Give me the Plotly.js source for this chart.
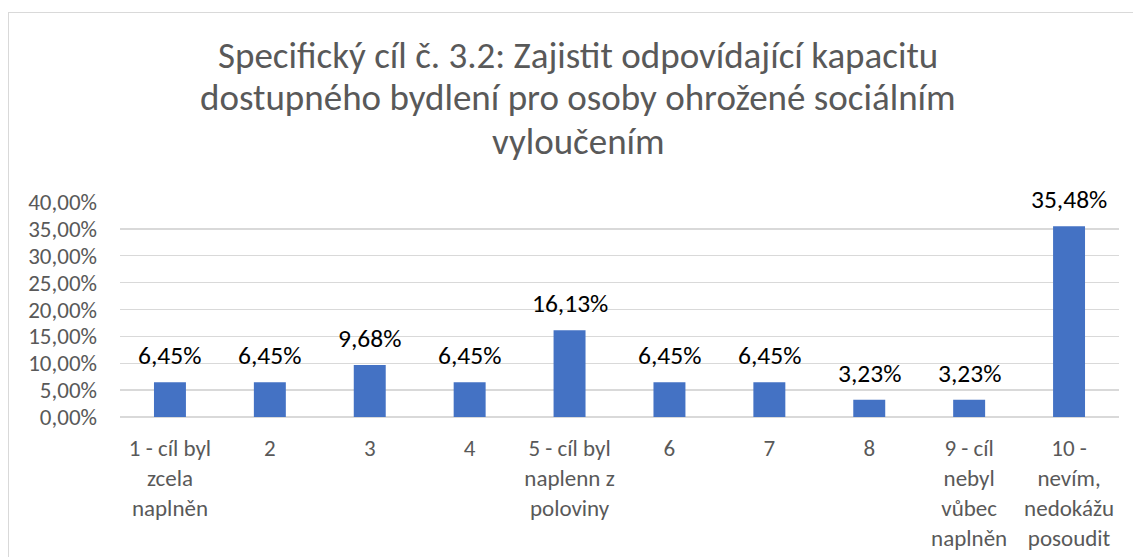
<!DOCTYPE html>
<html>
<head>
<meta charset="utf-8">
<script src="https://cdn.plot.ly/plotly-3.0.1.min.js"></script>
<style>
  html, body { margin: 0; padding: 0; background: #fff; overflow: hidden; }
  #chart { position: absolute; left: 0; top: 0; width: 1133px; height: 557px; }
  #frame { position: absolute; left: 8px; top: 12px; width: 1200px; height: 600px;
           border: 1.5px solid #d9d9d9; pointer-events: none; box-sizing: border-box; }
</style>
</head>
<body>
<div id="chart"></div>
<div id="frame"></div>
<script>
const categories = [
  "1 - cíl byl<br>zcela<br>naplněn",
  "2",
  "3",
  "4",
  "5 - cíl byl<br>naplenn z<br>poloviny",
  "6",
  "7",
  "8",
  "9 - cíl<br>nebyl<br>vůbec<br>naplněn",
  "10 -<br>nevím,<br>nedokážu<br>posoudit"
];
const values = [0.0645, 0.0645, 0.0968, 0.0645, 0.1613, 0.0645, 0.0645, 0.0323, 0.0323, 0.3548];
const yTickValues = [0, 0.05, 0.10, 0.15, 0.20, 0.25, 0.30, 0.35, 0.40];
const titleLines = [
  "Specifický cíl č. 3.2: Zajistit odpovídající kapacitu",
  "dostupného bydlení pro osoby ohrožené sociálním",
  "vyloučením"
];

const FONT = "Carlito, Calibri, Lato, 'Open Sans', sans-serif";
const fmt = v => (v * 100).toFixed(2).replace('.', ',') + '%';

// plot area geometry (pixels) used to place the title lines in paper coords
const PLOT_L = 120, PLOT_R = 1119, PLOT_T = 202, PLOT_B = 417;
const toPaperX = px => (px - PLOT_L) / (PLOT_R - PLOT_L);
const toPaperY = py => (PLOT_B - py) / (PLOT_B - PLOT_T);

const trace = {
  type: 'bar',
  x: categories.map((c, i) => i),
  y: values,
  marker: { color: '#4472C4' },
  hoverinfo: 'none'
};

const labelAnnotations = values.map((v, i) => ({
  x: i, y: v, xref: 'x', yref: 'y',
  text: fmt(v),
  showarrow: false, yanchor: 'bottom', yshift: 9,
  font: { family: FONT, size: 25.5, color: '#000000' }
}));

const titleCenters = [55, 98, 141];
const titleAnnotations = titleLines.map((t, i) => ({
  x: toPaperX(578), y: toPaperY(titleCenters[i]), xref: 'paper', yref: 'paper',
  xanchor: 'center', yanchor: 'middle',
  text: t, showarrow: false,
  font: { family: FONT, size: 37, color: '#595959' }
}));

const layout = {
  width: 1133, height: 557,
  paper_bgcolor: '#ffffff', plot_bgcolor: '#ffffff',
  separators: ', ',
  margin: { l: PLOT_L, r: 1133 - PLOT_R, t: PLOT_T, b: 557 - PLOT_B },
  bargap: 0.68,
  showlegend: false,
  font: { family: FONT, color: '#595959' },
  xaxis: {
    type: 'linear',
    range: [-0.5, categories.length - 0.5],
    tickvals: categories.map((c, i) => i),
    ticktext: categories,
    tickfont: { family: FONT, size: 23, color: '#595959' },
    showgrid: false, zeroline: false, showline: false,
    ticks: '', ticklabelstandoff: 15, automargin: false,
    fixedrange: true
  },
  yaxis: {
    range: [0, 0.40],
    tickvals: yTickValues,
    tickformat: '.2%',
    tickfont: { family: FONT, size: 23, color: '#595959' },
    showgrid: true, gridcolor: '#d9d9d9', gridwidth: 1.3,
    zeroline: true, zerolinecolor: '#d9d9d9', zerolinewidth: 1.3,
    showline: false, ticks: '', ticklabelstandoff: 22, automargin: false,
    fixedrange: true
  },
  annotations: labelAnnotations.concat(titleAnnotations)
};

Plotly.newPlot('chart', [trace], layout, { displayModeBar: false, staticPlot: true });
</script>
</body>
</html>
